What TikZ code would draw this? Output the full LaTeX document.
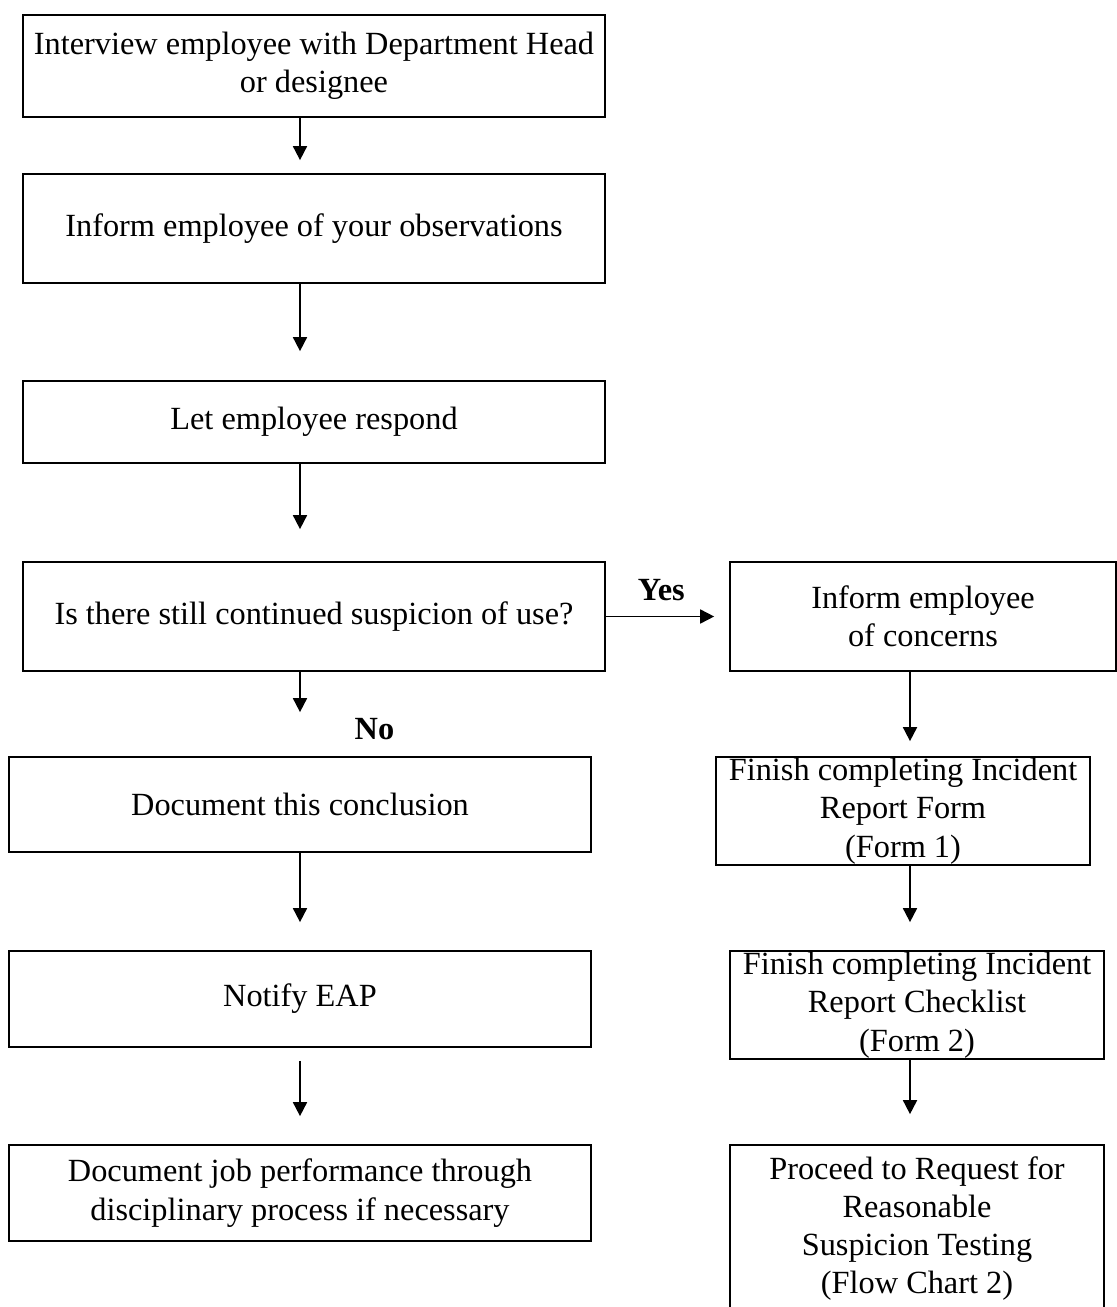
\documentclass[tikz,border=0pt]{standalone}
\usepackage{fontspec}
\setmainfont{Liberation Serif}
\usetikzlibrary{arrows.meta,positioning}

\begin{document}
\begin{tikzpicture}[x=0.02cm,y=-0.02cm,>={Triangle[width=0.28cm,length=0.28cm]},
    box/.style={draw,line width=1pt,align=center,inner sep=0pt,
      font=\fontsize{18.4}{21.8}\selectfont},
    wide/.style={box,minimum width=11.64cm},
    side/.style={box,minimum width=7.48cm},
    link/.style={->,line width=1pt},
    answer/.style={font=\fontsize{18.4}{21.8}\selectfont\bfseries}]
    \useasboundingbox (0,0) rectangle (1116,1307);

    % left column
    \node[wide,minimum height=2.04cm] (intv) at (314,66)    {Interview employee with Department Head\\or designee};
    \node[wide,minimum height=2.18cm] (obs)  at (314,228.5) {Inform employee of your observations};
    \node[wide,minimum height=1.64cm] (resp) at (314,422)   {Let employee respond};
    \node[wide,minimum height=2.18cm] (susp) at (314,616.5) {Is there still continued suspicion of use?};
    \node[wide,minimum height=1.90cm] (docc) at (300,804.5) {Document this conclusion};
    \node[wide,minimum height=1.92cm] (eap)  at (300,999)   {Notify EAP};
    \node[wide,minimum height=1.92cm] (perf) at (300,1193)  {Document job performance through\\disciplinary process if necessary};

    % right column
    \node[box,minimum width=7.72cm,minimum height=2.18cm] (conc) at (923,616.5) {Inform employee\\of concerns};
    \node[side,minimum height=2.16cm] (form)  at (903,811)    {Finish completing Incident\\Report Form\\(Form 1)};
    \node[side,minimum height=2.16cm] (check) at (917,1005)   {Finish completing Incident\\Report Checklist\\(Form 2)};
    \node[side,minimum height=3.34cm] (test)  at (917,1228.5) {Proceed to Request for\\Reasonable\\Suspicion Testing\\(Flow Chart 2)};

    \draw[link,shorten >=0.26cm] (intv.south -| docc) -- (obs.north -| docc);
    \draw[link,shorten >=0.58cm] (obs.south -| docc) -- (resp.north -| docc);
    \draw[link,shorten >=0.64cm] (resp.south -| docc) -- (susp.north -| docc);
    \draw[link,shorten >=0.88cm] (susp.south -| docc) -- (docc.north)
        node[answer,pos=0.68,right=0.96cm] {No};
    \draw[link,shorten >=0.56cm] (docc.south) -- (eap.north);
    \draw[link,shorten <=0.26cm,shorten >=0.56cm] (eap.south) -- (perf.north);

    \draw[link,shorten >=0.30cm] (susp.east) -- (conc.west)
        node[answer,pos=0.45,above=0.18cm] {Yes};
    \draw[link,shorten >=0.30cm] ([xshift=-0.26cm]conc.south) -- ([xshift=-0.26cm]conc.south |- form.north);
    \draw[link,shorten >=0.56cm] ([xshift=0.14cm]form.south) -- ([xshift=0.14cm]form.south |- check.north);
    \draw[link,shorten >=0.60cm] ([xshift=-0.14cm]check.south) -- ([xshift=-0.14cm]check.south |- test.north);
\end{tikzpicture}
\end{document}
